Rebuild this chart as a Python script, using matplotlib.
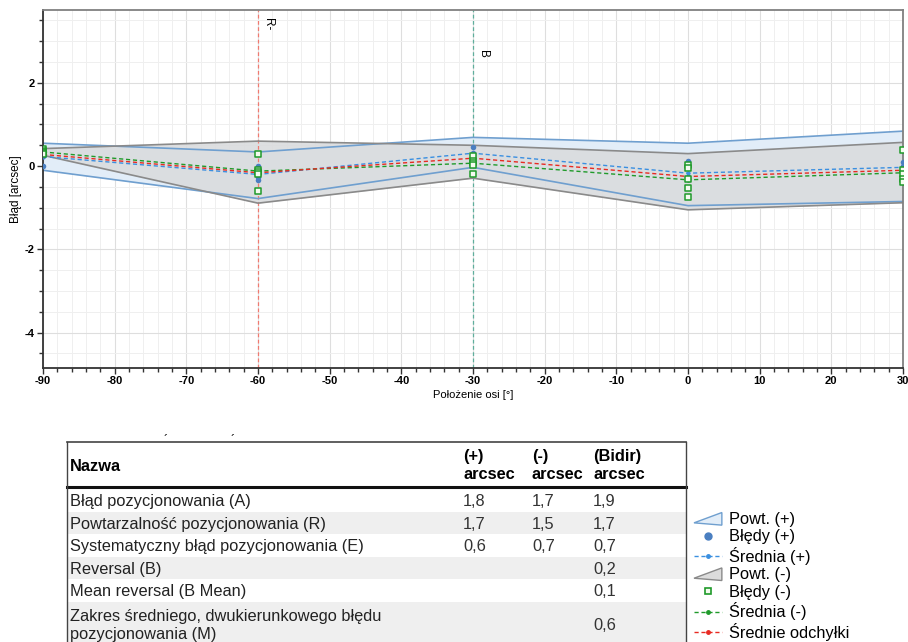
import matplotlib
matplotlib.use("Agg")
import matplotlib.pyplot as plt
from matplotlib.patches import Polygon, Patch, Rectangle
from matplotlib.lines import Line2D
from matplotlib.legend_handler import HandlerPatch
from matplotlib.ticker import MultipleLocator

plt.rcParams['font.family'] = ['Liberation Sans', 'DejaVu Sans']
plt.rcParams['axes.unicode_minus'] = False

# === DANE ===
pozycje = [-90, -60, -30, 0, 30]

# pasma powtarzalnosci
powt_plus_gora = [0.55, 0.34, 0.69, 0.55, 0.84]
powt_plus_dol = [-0.10, -0.78, -0.03, -0.95, -0.85]
powt_minus_gora = [0.42, 0.60, 0.50, 0.30, 0.57]
powt_minus_dol = [0.26, -0.89, -0.29, -1.05, -0.88]

# srednie
srednia_plus = [0.23, -0.20, 0.31, -0.17, -0.03]
srednia_minus = [0.34, -0.12, 0.07, -0.33, -0.16]
srednie_odchylki = [0.28, -0.16, 0.19, -0.25, -0.10]

# bledy z kolejnych przejazdow (po 5 na pozycje)
bledy_plus = [
    [0.00, 0.25, 0.28, 0.30, 0.33],
    [0.00, -0.08, -0.18, -0.27, -0.33],
    [0.45, 0.32, 0.28, 0.26, 0.24],
    [0.12, 0.03, -0.25, -0.32, -0.28],
    [0.10, 0.00, -0.05, -0.10, -0.10],
]
bledy_minus = [
    [0.40, 0.36, 0.34, 0.32, 0.30],
    [0.30, -0.10, -0.14, -0.18, -0.60],
    [0.25, 0.12, 0.08, 0.03, -0.20],
    [0.02, -0.05, -0.32, -0.52, -0.75],
    [0.38, -0.10, -0.18, -0.30, -0.38],
]

# znaczniki pionowe
znaczniki_x = [-60, -30]
znaczniki_txt = ["R-", "B"]
znaczniki_y = [3.55, 2.8]

# tabela
naglowki = ["(+)\narcsec", "(-)\narcsec", "(Bidir)\narcsec"]
nazwy = ["Błąd pozycjonowania (A)",
         "Powtarzalność pozycjonowania (R)",
         "Systematyczny błąd pozycjonowania (E)",
         "Reversal (B)",
         "Mean reversal (B Mean)",
         "Zakres średniego, dwukierunkowego błędu\npozycjonowania (M)"]
kol_plus = ["1,8", "1,7", "0,6", "", "", ""]
kol_minus = ["1,7", "1,5", "0,7", "", "", ""]
kol_bidir = ["1,9", "1,7", "0,7", "0,2", "0,1", "0,6"]

# === KOLORY ===
c_pasmo_plus = "#e2edf8"
c_kraw_plus = "#6f9fcf"
c_pasmo_minus = "#dadcde"
c_kraw_minus = "#8a8a8a"
c_sr_plus = "#3a8fe0"
c_sr_minus = "#1f9a2a"
c_odch = "#e82a22"
c_pkt_plus = "#4a7fc1"

W, H = 908, 642
fig = plt.figure(figsize=(W / 100, H / 100), dpi=100)
ax = fig.add_axes([43 / W, 1 - 368 / H, 860 / W, 358 / H])

# pasma
ax.fill_between(pozycje, powt_plus_dol, powt_plus_gora, color=c_pasmo_plus, lw=0, zorder=1)
ax.fill_between(pozycje, powt_minus_dol, powt_minus_gora, color=c_pasmo_minus, alpha=0.9, lw=0, zorder=1.1)
for y in (powt_plus_gora, powt_plus_dol):
    ax.plot(pozycje, y, color=c_kraw_plus, lw=1.2, zorder=2)
for y in (powt_minus_gora, powt_minus_dol):
    ax.plot(pozycje, y, color=c_kraw_minus, lw=1.2, zorder=2)

# linie pionowe
ax.axvline(znaczniki_x[0], color="#f07a70", lw=0.9, ls=(0, (3, 2)), zorder=1.5)
ax.axvline(znaczniki_x[1], color="#5fae9c", lw=0.9, ls=(0, (3, 2)), zorder=1.5)
for xv, t, yv in zip(znaczniki_x, znaczniki_txt, znaczniki_y):
    ax.text(xv + 0.6, yv, t, rotation=-90, fontsize=8.5, ha="left", va="top")

# srednie
ax.plot(pozycje, srednia_plus, color=c_sr_plus, lw=1, ls=(0, (3, 2)), marker="o", ms=2, zorder=3)
ax.plot(pozycje, srednia_minus, color=c_sr_minus, lw=1, ls=(0, (3, 2)), marker="o", ms=2, zorder=3)
ax.plot(pozycje, srednie_odchylki, color=c_odch, lw=1, ls=(0, (3, 2)), marker="o", ms=2, zorder=3)

# punkty
for xp, vals in zip(pozycje, bledy_plus):
    ax.scatter([xp] * len(vals), vals, s=16, color=c_pkt_plus, zorder=4, lw=0)
for xp, vals in zip(pozycje, bledy_minus):
    ax.scatter([xp] * len(vals), vals, s=16, marker="s", facecolor="#f4fbef",
               edgecolor=c_sr_minus, lw=1.1, zorder=4)

ax.set_xlim(-90, 30)
ax.set_ylim(-4.85, 3.75)
ax.xaxis.set_major_locator(MultipleLocator(10))
ax.xaxis.set_minor_locator(MultipleLocator(2))
ax.yaxis.set_major_locator(MultipleLocator(2))
ax.yaxis.set_minor_locator(MultipleLocator(0.5))
ax.grid(True, which="major", color="#dedede", lw=0.8, zorder=0)
ax.grid(True, which="minor", color="#efefef", lw=0.7, zorder=0)
ax.set_axisbelow(True)
ax.tick_params(which="major", direction="out", length=4, width=1, labelsize=8, color="#333", pad=2)
ax.tick_params(which="minor", direction="out", length=3, width=1, color="#333")
for lab in ax.get_xticklabels() + ax.get_yticklabels():
    lab.set_fontweight("bold")
for s in ("left", "bottom"):
    ax.spines[s].set_color("#333333")
    ax.spines[s].set_linewidth(1.3)
for s in ("top", "right"):
    ax.spines[s].set_color("#808080")
    ax.spines[s].set_linewidth(1.3)
ax.set_xlabel("Położenie osi [°]", fontsize=8, labelpad=3)
ax.set_ylabel("Błąd [arcsec]", fontsize=8.5, labelpad=2)

# === TABELA ===
tab = fig.add_axes([0, 0, 1, 1])
tab.set_xlim(0, W)
tab.set_ylim(H, 0)
tab.axis("off")
lewo, prawo = 67, 686
gora, dol_nagl = 442, 487
start_wierszy = 489
wys = 22.5
kol_x = [463, 532, 593]
fs = 11.8

y0 = start_wierszy
for i, nazwa in enumerate(nazwy):
    h = wys * (2 if "\n" in nazwa else 1)
    if i % 2 == 1:
        tab.add_patch(Rectangle((lewo, y0), prawo - lewo, h + 30 * (i == len(nazwy) - 1),
                                color="#efefef", lw=0, zorder=0))
    yc = y0 + h / 2 + 1.5
    tab.text(70, yc, nazwa, fontsize=fs, va="center", ha="left", color="#222",
             linespacing=1.2)
    for xk, val in zip(kol_x, (kol_plus[i], kol_minus[i], kol_bidir[i])):
        tab.text(xk, yc, val, fontsize=fs, va="center", ha="left", color="#333")
    y0 += h

tab.plot([lewo, prawo], [gora, gora], color="#444", lw=1.2)
tab.plot([lewo, prawo], [dol_nagl, dol_nagl], color="#111", lw=2.2)
tab.plot([lewo, lewo], [gora, H], color="#444", lw=1)
tab.plot([prawo, prawo], [gora, H], color="#444", lw=1)
tab.text(70, (gora + dol_nagl) / 2 + 2, "Nazwa", fontsize=fs, fontweight="bold",
         va="center", ha="left")
for xk, t in zip(kol_x, naglowki):
    tab.text(xk, (gora + dol_nagl) / 2 + 1, t, fontsize=fs, fontweight="bold",
             va="center", ha="left", linespacing=1.3)
for xk in (166, 233):
    tab.text(xk, 435, "´", fontsize=9, ha="center", va="top")


# === LEGENDA ===
class KlinHandler(HandlerPatch):
    def create_artists(self, legend, orig_handle, xdescent, ydescent, width, height, fontsize, trans):
        x0, y0_ = -xdescent, -ydescent
        p = Polygon([(x0, y0_ + 0.1 * height), (x0 + width, y0_ + 1.0 * height),
                     (x0 + width, y0_ - 0.1 * height)], closed=True,
                    facecolor=orig_handle.get_facecolor(), edgecolor=orig_handle.get_edgecolor(),
                    lw=1, transform=trans)
        return [p]


h_powt_plus = Patch(facecolor=c_pasmo_plus, edgecolor=c_kraw_plus)
h_powt_minus = Patch(facecolor="#dcdcdc", edgecolor=c_kraw_minus)
uchwyty = [
    h_powt_plus,
    Line2D([], [], ls="none", marker="o", ms=5, color=c_pkt_plus),
    Line2D([], [], ls=(0, (3, 2)), lw=1, marker="o", ms=2.5, color=c_sr_plus),
    h_powt_minus,
    Line2D([], [], ls="none", marker="s", ms=5, mfc="#f4fbef", mec=c_sr_minus, mew=1.2),
    Line2D([], [], ls=(0, (3, 2)), lw=1, marker="o", ms=2.5, color=c_sr_minus),
    Line2D([], [], ls=(0, (3, 2)), lw=1, marker="o", ms=2.5, color=c_odch),
]
etykiety = ["Powt. (+)", "Błędy (+)", "Średnia (+)", "Powt. (-)", "Błędy (-)",
            "Średnia (-)", "Średnie odchyłki"]
fig.legend(uchwyty, etykiety, loc="upper left", bbox_to_anchor=(694 / W, 1 - 512 / H),
           frameon=False, fontsize=11.8, handlelength=1.7, handletextpad=0.42,
           labelspacing=0.15, borderpad=0, borderaxespad=0,
           handler_map={h_powt_plus: KlinHandler(), h_powt_minus: KlinHandler()})

fig.savefig("out.png", dpi=100)
